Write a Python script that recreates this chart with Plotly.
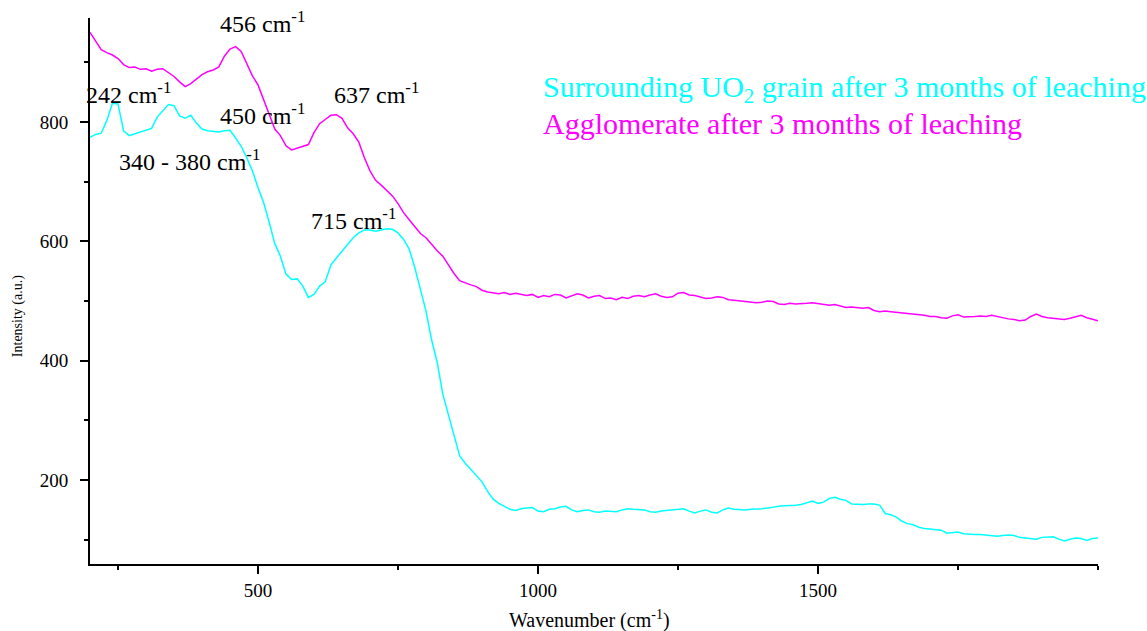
import plotly.graph_objects as go

# Raman shift grid (cm-1), 10 cm-1 steps from 200 to 2000
wavenumber = list(range(200, 2001, 10))

# Agglomerate after 3 months of leaching
agglomerate = [
    950, 935, 921, 916, 912, 906, 896, 891, 892, 888,
    889, 885, 888, 889, 883, 876, 867, 859, 864, 871,
    879, 884, 887, 892, 910, 922, 926, 918, 898, 877,
    862, 838, 812, 788, 777, 760, 753, 756, 758, 762,
    782, 797, 804, 811, 812, 806, 790, 780, 766, 740,
    718, 702, 694, 685, 676, 663, 648, 636, 624, 613,
    606, 594, 584, 575, 560, 546, 534, 530, 527, 524,
    518, 515, 513, 512, 514, 511, 513, 511, 509, 511,
    506, 509, 507, 511, 510, 505, 509, 512, 510, 505,
    508, 509, 504, 505, 502, 506, 504, 508, 509, 507,
    510, 512, 508, 506, 507, 513, 514, 510, 509, 506,
    504, 505, 507, 506, 502, 501, 500, 499, 498, 497,
    498, 500, 499, 495, 494, 496, 495, 495, 496, 497,
    496, 494, 493, 494, 491, 489, 490, 489, 488, 489,
    484, 482, 483, 482, 481, 481, 479, 478, 477, 476,
    474, 474, 472, 471, 475, 477, 473, 473, 474, 475,
    474, 476, 474, 471, 470, 469, 467, 468, 474, 478,
    474, 472, 471, 469, 469, 471, 474, 476, 472, 470,
    467,
]

# Surrounding UO2 grain after 3 months of leaching
uo2_grain = [
    774, 779, 781, 802, 831, 830, 785, 777, 780, 783,
    786, 789, 808, 818, 829, 827, 810, 806, 811, 798,
    788, 785, 784, 783, 785, 786, 773, 759, 740, 718,
    690, 665, 632, 596, 575, 545, 536, 537, 525, 506,
    511, 525, 532, 560, 572, 583, 595, 606, 614, 619,
    619, 617, 619, 621, 620, 614, 603, 587, 556, 520,
    483, 435, 397, 344, 311, 275, 241, 228, 218, 207,
    197, 181, 168, 161, 156, 151, 149, 152, 153, 154,
    148, 147, 151, 152, 155, 156, 150, 147, 149, 150,
    147, 146, 148, 147, 147, 150, 152, 151, 150, 150,
    147, 146, 148, 149, 149, 151, 152, 148, 145, 148,
    150, 146, 145, 150, 153, 151, 150, 150, 151, 151,
    152, 153, 155, 156, 157, 157, 158, 159, 162, 165,
    161, 163, 169, 171, 168, 166, 160, 159, 159, 160,
    160, 158, 144, 142, 138, 131, 127, 125, 121, 119,
    118, 118, 116, 111, 112, 113, 110, 109, 109, 109,
    108, 107, 106, 107, 108, 107, 104, 103, 102, 101,
    104, 105, 105, 101, 98, 101, 103, 102, 99, 102,
    103,
]

# Band labels: (text, x of text centre, y of text centre)
band_labels = [
    ("456 cm<sup>-1</sup>", 508, 967),
    ("242 cm<sup>-1</sup>", 269, 849),
    ("450 cm<sup>-1</sup>", 508, 813),
    ("637 cm<sup>-1</sup>", 711, 849),
    ("340 - 380 cm<sup>-1</sup>", 378, 736),
    ("715 cm<sup>-1</sup>", 671, 638),
]

series_names = [
    "Surrounding UO<sub>2</sub> grain after 3 months of leaching",
    "Agglomerate after 3 months of leaching",
]
series_colors = ["#00FFFF", "#FF00FF"]

x_ticks = [500, 1000, 1500]
y_ticks = [200, 400, 600, 800]

FONT = "Liberation Serif"

fig = go.Figure()
fig.add_trace(go.Scatter(x=wavenumber, y=uo2_grain, mode="lines",
                         line=dict(color=series_colors[0], width=1.5),
                         showlegend=False))
fig.add_trace(go.Scatter(x=wavenumber, y=agglomerate, mode="lines",
                         line=dict(color=series_colors[1], width=1.5),
                         showlegend=False))

annotations = []
for text, x, y in band_labels:
    annotations.append(dict(x=x, y=y, xref="x", yref="y", text=text,
                            showarrow=False, xanchor="center", yanchor="middle",
                            font=dict(family=FONT, size=24, color="black")))

# Coloured series captions
for i, (name, col) in enumerate(zip(series_names, series_colors)):
    annotations.append(dict(x=0.4474, y=[0.87, 0.806][i], xref="paper", yref="paper",
                            text=name, showarrow=False, xanchor="left", yanchor="middle",
                            font=dict(family=FONT, size=30, color=col)))

# Axis titles
annotations.append(dict(x=0.496, y=-0.102, xref="paper", yref="paper",
                        text="Wavenumber (cm<sup>-1</sup>)", showarrow=False,
                        xanchor="center", yanchor="middle",
                        font=dict(family=FONT, size=20, color="black")))
annotations.append(dict(x=-0.0714, y=0.454, xref="paper", yref="paper",
                        text="Intensity (a.u.)", showarrow=False, textangle=-90,
                        xanchor="center", yanchor="middle",
                        font=dict(family=FONT, size=14, color="black")))

fig.update_layout(
    width=1147, height=631,
    margin=dict(l=90, r=49, t=18, b=67),
    paper_bgcolor="white", plot_bgcolor="white",
    font=dict(family=FONT, size=19, color="black"),
    annotations=annotations,
    showlegend=False,
)
fig.update_xaxes(
    range=[200, 2000], showgrid=False, zeroline=False,
    showline=True, linecolor="black", linewidth=2,
    tickmode="array", tickvals=x_ticks, ticks="outside", ticklen=8,
    tickwidth=1.5, tickcolor="black",
    minor=dict(dtick=250, tick0=0, ticks="outside", ticklen=4, tickwidth=1.5,
               tickcolor="black", showgrid=False),
    tickfont=dict(family=FONT, size=19),
)
fig.update_yaxes(
    range=[59.4, 974], showgrid=False, zeroline=False,
    showline=True, linecolor="black", linewidth=2,
    tickmode="array", tickvals=y_ticks, ticks="outside", ticklen=8,
    tickwidth=1.5, tickcolor="black",
    minor=dict(dtick=100, tick0=0, ticks="outside", ticklen=4, tickwidth=1.5,
               tickcolor="black", showgrid=False),
    tickfont=dict(family=FONT, size=19),
    ticklabelstandoff=8,
)

fig.write_html("out.html")
